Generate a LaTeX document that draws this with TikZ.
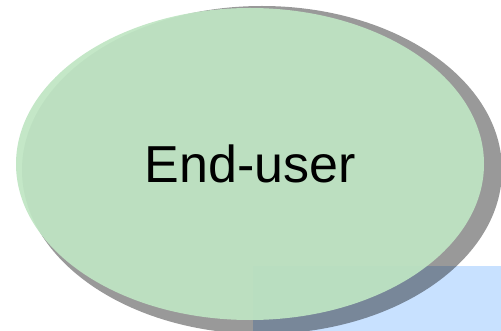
\documentclass[tikz,border=0pt]{standalone}
\usepackage{fontspec}
\setmainfont{Liberation Sans}
\usetikzlibrary{shapes.geometric}
\definecolor{userfill}{RGB}{191,229,195}
\definecolor{boxfill}{RGB}{200,225,255}

\begin{document}
\begin{tikzpicture}[x=1pt, y=-1pt, every node/.style={inner sep=0pt, outer sep=0pt}]
                \useasboundingbox (0,0) rectangle (501,331);
                % box behind the ellipse, cut by the page
                \fill[boxfill] (253,266) rectangle (501,331);
                % shadow
                \fill[black, opacity=0.4] (262,170) ellipse [x radius=240, y radius=164];
                \node (user) at (250,164) [ellipse, fill=userfill, fill opacity=0.93,
                    minimum width=468pt, minimum height=312pt] {};
                \node (userlabel) [anchor=base] at (250,183) {\fontsize{52}{60}\selectfont End-user};
            \end{tikzpicture}
\end{document}
